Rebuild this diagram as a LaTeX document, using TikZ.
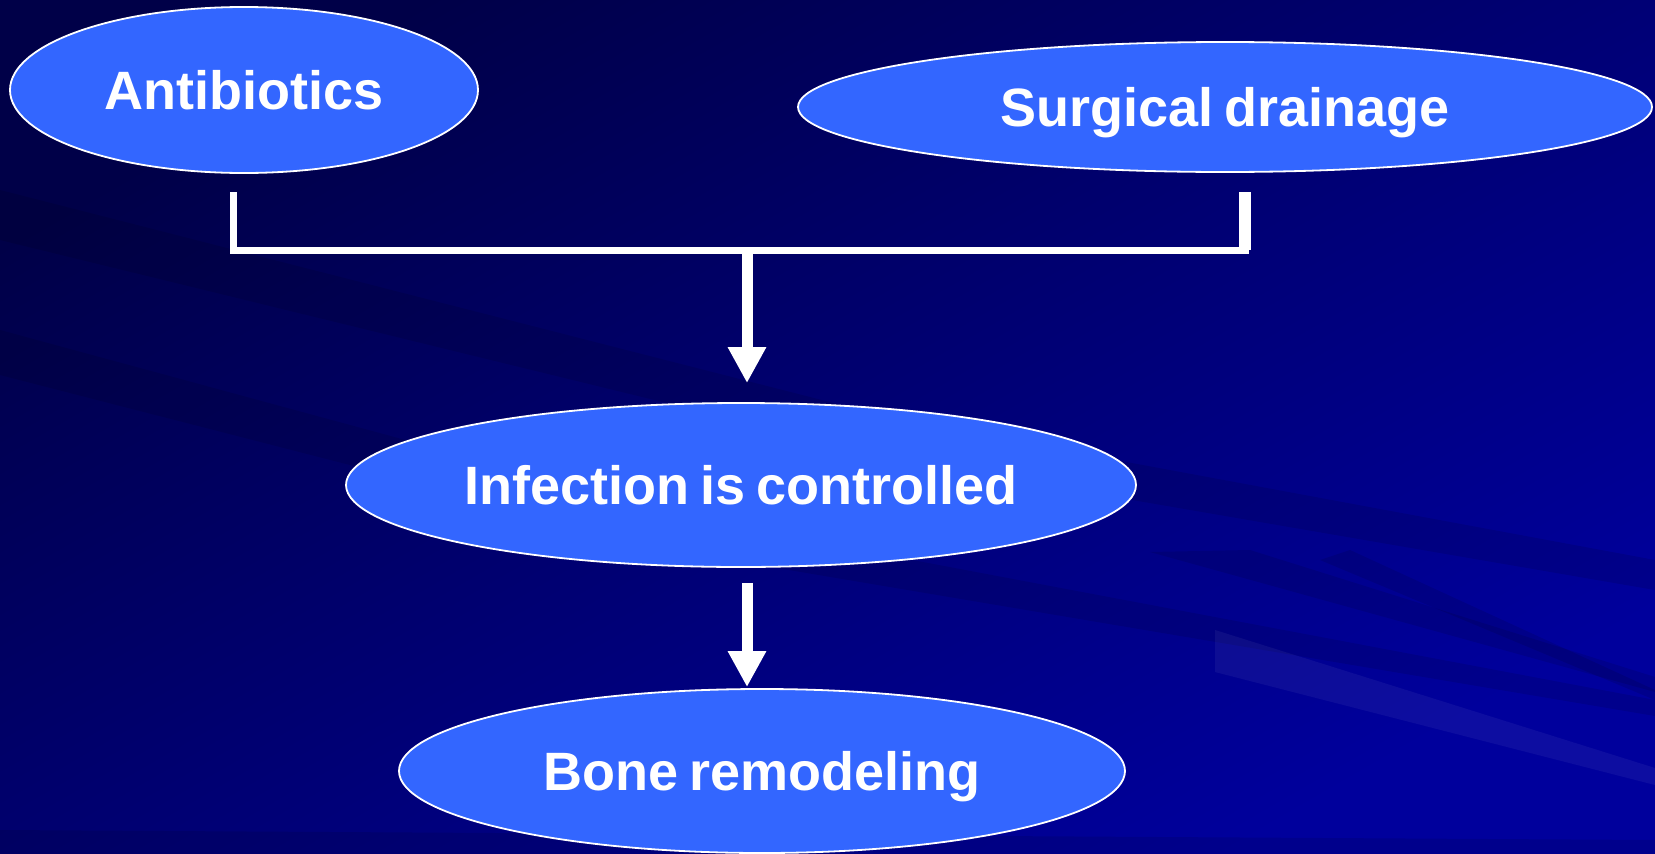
\documentclass[tikz,border=0pt]{standalone}
\usepackage{fontspec}
\setmainfont{Liberation Sans}
\usetikzlibrary{arrows.meta,shapes.geometric}
\definecolor{bgA}{HTML}{000048}
\definecolor{bgB}{HTML}{00009C}
\definecolor{ellfill}{HTML}{3366FF}
\begin{document}
\begin{tikzpicture}[x=1pt,y=-1pt,
  bubble/.style={ellipse, draw=white, line width=1.8pt, fill=ellfill, inner sep=0pt,
    text=white, font=\bfseries\fontsize{54}{60}\selectfont, text height=39pt, text depth=0pt},
  bar/.style={draw=white, line width=7pt},
  flow/.style={draw=white, line width=11pt, -{Triangle[width=36pt,length=36pt]}},
  streakdark/.style={fill=black, fill opacity=0.10, draw=none},
  streaklight/.style={fill=white, fill opacity=0.05, draw=none}
]
% background
\shade[top color=bgA, bottom color=bgB, shading angle=30] (0,0) rectangle (1655,854);
\useasboundingbox (0,0) rectangle (1655,854);
% streaks
\fill[streakdark] (0,190) -- (900,420) -- (1655,560) -- (1655,590) -- (900,460) -- (0,240) -- cycle;
\fill[streakdark] (0,330) -- (700,520) -- (1655,700) -- (1655,716) -- (700,555) -- (0,375) -- cycle;
\fill[streakdark] (1250,550) -- (1655,677) -- (1655,692) -- (1150,552) -- cycle;
\fill[streakdark] (1350,550) -- (1655,690) -- (1655,700) -- (1320,560) -- cycle;
\fill[streakdark] (0,830) -- (1655,840) -- (1655,854) -- (0,854) -- cycle;
\fill[streaklight] (1215,630) -- (1655,768) -- (1655,785) -- (1215,672) -- cycle;

% nodes
\node[bubble, minimum width=468pt, minimum height=166pt] (anti) at (244,90) {Antibiotics};
\node[bubble, minimum width=854pt, minimum height=130pt] (surg) at (1225,107) {Surgical\hspace{0.2em}drainage};
\node[bubble, minimum width=790pt, minimum height=164pt] (inf) at (741,485) {Infection\hspace{0.2em}is\hspace{0.2em}controlled};
\node[bubble, minimum width=726pt, minimum height=164pt] (bone) at (762,771) {Bone\hspace{0.2em}remodeling};

% connectors
\coordinate (la) at (233,192);
\coordinate (ra) at (1245,192);
\coordinate (jn) at (747,250);
\draw[bar] (la) |- (jn) -| (ra);
\draw[white, line width=12pt] (ra) -- ++(0,57.5);
\draw[flow, shorten >=19pt] (jn) -- (inf.north -| jn);
\draw[flow, shorten <=15pt, shorten >=1pt] (inf.south -| jn) -- (bone.north -| jn);
\end{tikzpicture}
\end{document}
